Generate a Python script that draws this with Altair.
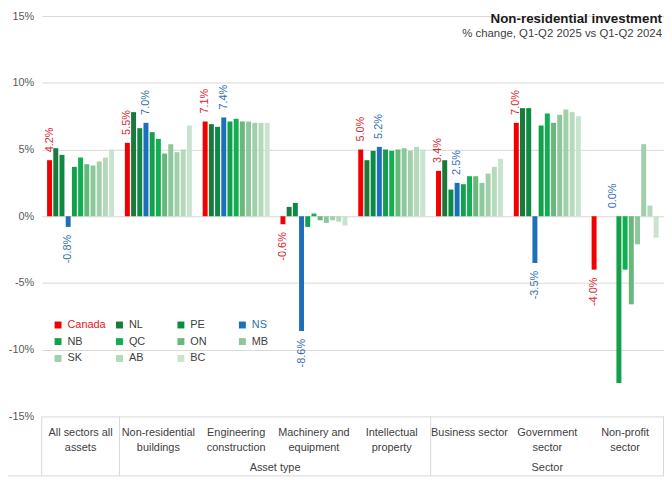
import altair as alt
import pandas as pd

# ---------------- data ----------------
categories = [
    "All sectors all assets", "Non-residential buildings", "Engineering construction",
    "Machinery and equipment", "Intellectual property", "Business sector",
    "Government sector", "Non-profit sector",
]
category_labels = [
    "All sectors all|assets", "Non-residential|buildings", "Engineering|construction",
    "Machinery and|equipment", "Intellectual|property", "Business sector",
    "Government|sector", "Non-profit|sector",
]
provinces = ["Canada", "NL", "PE", "NS", "NB", "QC", "ON", "MB", "SK", "AB", "BC"]

canada = [4.2, 5.5, 7.1, -0.6, 5.0, 3.4, 7.0, -4.0]
nl     = [5.1, 7.8, 6.9, 0.7, 4.2, 4.2, 8.1, None]
pe     = [4.6, 6.6, 6.7, 1.0, 4.9, 2.0, 8.1, None]
ns     = [-0.8, 7.0, 7.4, -8.6, 5.2, 2.5, -3.5, 0.0]
nb     = [3.7, 6.3, 7.1, -0.8, 5.0, 2.4, 6.8, -12.5]
qc     = [4.4, 5.8, 7.3, 0.2, 4.9, 3.0, 7.7, -4.0]
on     = [3.9, 4.7, 7.1, -0.3, 5.0, 3.0, 7.0, -6.6]
mb     = [3.8, 5.4, 7.1, -0.5, 5.1, 2.5, 7.6, -2.1]
sk     = [4.1, 4.8, 7.0, -0.3, 4.9, 3.2, 8.0, 5.4]
ab     = [4.4, 5.0, 7.0, -0.4, 5.2, 3.7, 7.8, 0.8]
bc     = [5.0, 6.8, 7.0, -0.7, 5.0, 4.3, 7.5, -1.6]

colors = ["#F00000", "#1A7A3C", "#0F8A45", "#1E6FB9", "#13A04D", "#10B052",
          "#67B87A", "#8DC79C", "#A0CFAA", "#B4D9BB", "#C9E4CE"]

title_text = "Non-residential investment"
subtitle_text = "% change, Q1-Q2 2025 vs Q1-Q2 2024"
group_labels = ["Asset type", "Sector"]

series = dict(zip(provinces, [canada, nl, pe, ns, nb, qc, on, mb, sk, ab, bc]))
rows = []
for p in provinces:
    for c, v in zip(categories, series[p]):
        if v is None:
            continue
        rows.append({"cat": c, "prov": p, "value": v, "label": f"{v:.1f}%"})
df = pd.DataFrame(rows)

W, H = 628, 404
FONT = "Liberation Sans"


def mk_x(band=None):
    kw = {}
    if band is not None:
        kw["bandPosition"] = band
    return alt.X(
        "cat:N", sort=categories,
        scale=alt.Scale(domain=categories, paddingInner=0, paddingOuter=0),
        axis=None, **kw,
    )


xoff = alt.XOffset(
    "prov:N", sort=provinces,
    scale=alt.Scale(domain=provinces, paddingInner=0.2, paddingOuter=0.87),
)
y_enc = alt.Y(
    "value:Q",
    scale=alt.Scale(domain=[-15, 15], nice=False),
    axis=alt.Axis(
        values=[-15, -10, -5, 0, 5, 10, 15], labelExpr="datum.value + '%'",
        grid=True, gridColor="#D9D9D9", gridWidth=1, domain=False, ticks=False,
        labelPadding=8, labelFontSize=11, labelColor="#595959", title=None,
    ),
)

legend = alt.Legend(
    orient="none", direction="horizontal", legendX=11, legendY=306, columns=4,
    gridAlign="all", columnPadding=8, rowPadding=5, symbolType="square",
    symbolSize=49, symbolStrokeWidth=0, labelFontSize=11, labelFont=FONT,
    labelOffset=4, title=None,
    labelColor=alt.ExprRef(
        "datum.value === 'Canada' ? '#E3151B' : datum.value === 'NS' ? '#2F6EAE' : '#404040'"
    ),
)

bars = alt.Chart(df).mark_bar().encode(
    x=mk_x(), xOffset=xoff, y=y_enc,
    color=alt.Color("prov:N", sort=provinces,
                    scale=alt.Scale(domain=provinces, range=colors), legend=legend),
)


def value_labels(prov, col):
    base = alt.Chart(df).transform_filter(alt.datum.prov == prov)
    pos = base.transform_filter(alt.datum.value >= 0).mark_text(
        angle=270, align="left", baseline="middle", dx=8, fontSize=11, color=col
    ).encode(x=mk_x(), xOffset=xoff, y="value:Q", text="label:N")
    neg = base.transform_filter(alt.datum.value < 0).mark_text(
        angle=270, align="right", baseline="middle", dx=-8, fontSize=11, color=col
    ).encode(x=mk_x(), xOffset=xoff, y="value:Q", text="label:N")
    return [pos, neg]


labels = value_labels("Canada", "#D9262B") + value_labels("NS", "#2F6EAE")

cat_df = pd.DataFrame({"cat": categories, "label": category_labels})
cat_text = alt.Chart(cat_df).mark_text(
    lineBreak="|", baseline="top", align="center", fontSize=11, lineHeight=15,
    color="#404040",
).encode(x=mk_x(), y=alt.value(H + 11), text="label:N")

grp1 = alt.Chart(pd.DataFrame({"cat": [categories[2]], "label": [group_labels[0]]})).mark_text(
    baseline="middle", align="center", fontSize=11, color="#404040"
).encode(x=mk_x(1), y=alt.value(H + 52), text="label:N")
grp2 = alt.Chart(pd.DataFrame({"cat": [categories[6]], "label": [group_labels[1]]})).mark_text(
    baseline="middle", align="center", fontSize=11, color="#404040"
).encode(x=mk_x(0.5), y=alt.value(H + 52), text="label:N")

div_df = pd.DataFrame({"cat": [categories[0], categories[1], categories[5]]})
dividers = alt.Chart(div_df).mark_rule(color="#D9D9D9").encode(
    x=mk_x(0), y=alt.value(H), y2=alt.value(H + 60)
)
one = pd.DataFrame({"k": [0]})
right_div = alt.Chart(one).mark_rule(color="#D9D9D9").encode(
    x=alt.value(W - 0.5), y=alt.value(H), y2=alt.value(H + 60)
)
bottom_line = alt.Chart(one).mark_rule(color="#D9D9D9").encode(
    x=alt.value(-34), x2=alt.value(W), y=alt.value(H + 60)
)

title = alt.Chart(pd.DataFrame({"t": [title_text]})).mark_text(
    align="right", baseline="alphabetic", fontSize=13.5, fontWeight="bold", color="#1A1A1A"
).encode(x=alt.value(W - 2), y=alt.value(7), text="t:N")
subtitle = alt.Chart(pd.DataFrame({"t": [subtitle_text]})).mark_text(
    align="right", baseline="alphabetic", fontSize=11.5, color="#404040"
).encode(x=alt.value(W - 2), y=alt.value(21), text="t:N")

chart = alt.layer(
    bars, *labels, cat_text, grp1, grp2, dividers, right_div, bottom_line, title, subtitle
).properties(
    width=W, height=H,
    padding={"left": 34, "top": 6, "right": 0, "bottom": 60},
    autosize=alt.AutoSizeParams(type="none"),
).configure(font=FONT).configure_view(stroke=None)

chart.save("out.html", embed_options={"renderer": "svg", "actions": False})
